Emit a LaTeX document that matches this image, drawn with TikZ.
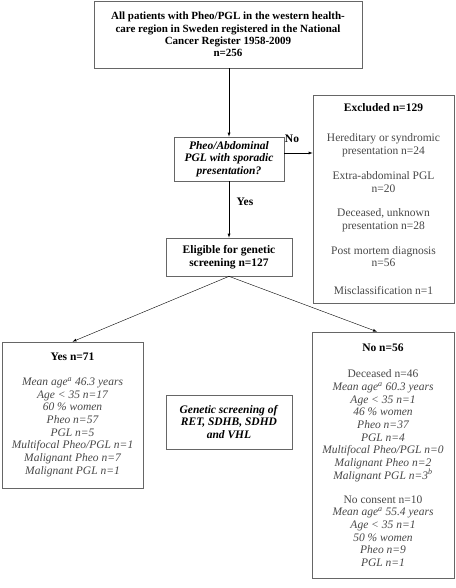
\documentclass[tikz,border=0pt]{standalone}
\usepackage{fontspec}
\setmainfont{Liberation Serif}
\usetikzlibrary{positioning}

\newcommand{\hd}[1]{\textcolor{black}{\textbf{#1}}}

\begin{document}
\begin{tikzpicture}[>=latex, x=1pt, y=-1pt,
  box/.style={draw=black!60, line width=.7pt, rectangle, align=center, inner sep=0pt,
    font=\fontsize{11.5}{12.7}\selectfont},
  body/.style={text=black!72},
  lbl/.style={font=\fontsize{11.5}{12.7}\selectfont\bfseries}]
\useasboundingbox (0,0) rectangle (455,588);
% boxes
\node[box, minimum width=268pt, minimum height=67pt, font=\fontsize{11}{12.4}\selectfont] (all) at (228,34.5)
  {\textbf{All patients with Pheo/PGL in the western health-}\\
   \textbf{care region in Sweden registered in the National}\\
   \textbf{Cancer Register 1958-2009}\\
   \textbf{n=256}};
\node[box, minimum width=110pt, minimum height=44pt] (sporadic) at (229,159)
  {\textbf{\itshape Pheo/Abdominal}\\ \textbf{\itshape PGL with sporadic}\\ \textbf{\itshape presentation?}};
\node[box, minimum width=126pt, minimum height=38pt] (eligible) at (229,257)
  {\textbf{Eligible for genetic}\\ \textbf{screening n=127}};
\node[box, body, minimum width=141pt, minimum height=208pt] (excluded) at (383.5,199)
  {\hd{Excluded n=129}\\[18pt]
   Hereditary or syndromic\\ presentation n=24\\[12pt]
   Extra-abdominal PGL\\ n=20\\[12pt]
   Deceased, unknown\\ presentation n=28\\[12pt]
   Post mortem diagnosis\\ n=56\\[15pt]
   Misclassification n=1};
\node[box, body, minimum width=141pt, minimum height=146pt] (yes) at (72.5,415)
  {\hd{Yes n=71}\\[12pt]
   \itshape Mean age\textsuperscript{a} 46.3 years\\
   \itshape Age < 35 n=17\\
   \itshape 60 \% women\\
   \itshape Pheo n=57\\
   \itshape PGL n=5\\
   \itshape Multifocal Pheo/PGL n=1\\
   \itshape Malignant Pheo n=7\\
   \itshape Malignant PGL n=1};
\node[box, body, minimum width=142pt, minimum height=246pt] (no) at (383,455)
  {\hd{No n=56}\\[14pt]
   Deceased n=46\\
   \itshape Mean age\textsuperscript{a} 60.3 years\\
   \itshape Age < 35 n=1\\
   \itshape 46 \% women\\
   \itshape Pheo n=37\\
   \itshape PGL n=4\\
   \itshape Multifocal Pheo/PGL n=0\\
   \itshape Malignant Pheo n=2\\
   \itshape Malignant PGL n=3\textsuperscript{b}\\[11pt]
   No consent n=10\\
   \itshape Mean age\textsuperscript{a} 55.4 years\\
   \itshape Age < 35 n=1\\
   \itshape 50 \% women\\
   \itshape Pheo n=9\\
   \itshape PGL n=1};
\node[box, minimum width=126pt, minimum height=54pt] (screening) at (229,422)
  {\textbf{\itshape Genetic screening of}\\ \textbf{\itshape RET, SDHB, SDHD}\\ \textbf{\itshape and VHL}};
% arrows
\coordinate (noy) at (0,153);
\draw[->] (all.south -| sporadic.north) -- (sporadic.north);
\draw[->] (sporadic.east |- noy) -- (excluded.west |- noy);
\draw[->] (sporadic.south) -- (eligible.north);
\draw[->] (eligible.south) -- (yes.north);
\draw[->] (eligible.south) -- ([xshift=-6pt]no.north);
% labels
\node[lbl] (nolbl) at (292,139) {No};
\node[lbl] (yeslbl) at (245,202) {Yes};
\end{tikzpicture}
\end{document}
